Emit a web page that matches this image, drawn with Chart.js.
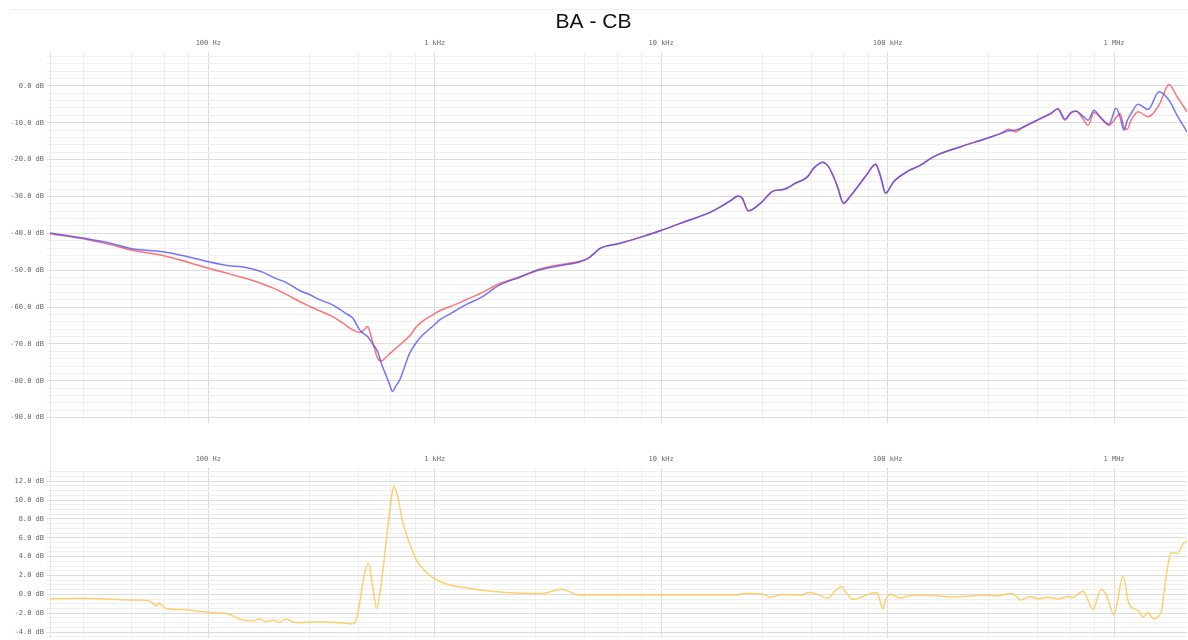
<!DOCTYPE html>
<html>
<head>
<meta charset="utf-8">
<script src="https://cdn.jsdelivr.net/npm/chart.js@4.4.1/dist/chart.umd.min.js"></script>
<style>
  html, body { margin: 0; padding: 0; background: #fff; overflow: hidden; }
  body { width: 1188px; height: 640px; position: relative; }
  #topline { position: absolute; left: 10px; right: 0; top: 9px; border-top: 1px solid #f0f0f0; }
  #gapline { position: absolute; left: 50px; top: 423px; width: 1px; height: 45px; background: #e8e8e8; }
  #top { position: absolute; left: 0; top: 0; }
  #bottom { position: absolute; left: 0; top: 430px; }
</style>
</head>
<body>
<div id="topline"></div>
<div id="gapline"></div>
<canvas id="top" width="1188" height="430"></canvas>
<canvas id="bottom" width="1188" height="215"></canvas>
<script>
// frequency response BA / CB (dB)
const FREQ = [20, 28, 36.5, 46, 63, 82, 100, 124, 140, 157, 175, 196, 220, 253, 280, 310, 354, 400,
  434, 466, 485, 505, 532, 560, 583, 613, 632, 652, 672, 700, 775, 832, 885, 980, 1052, 1165, 1290,
  1386, 1582, 1940, 2377, 2914, 3573, 4381, 4753, 5053, 5370, 6586, 8075, 9900, 12140, 16980, 20190,
  21910, 22810, 24260, 27420, 31310, 34670, 39170, 44260, 47060, 49550, 51580, 54810, 57680, 60100,
  63860, 68600, 73660, 80700, 88500, 93100, 97960, 106300, 122500, 139900, 159800, 210400, 266100,
  316300, 342800, 368200, 399900, 475500, 526200, 565000, 607000, 645200, 679200, 721800, 767400,
  815700, 875000, 950600, 1021000, 1064000, 1107000, 1142000, 1189000, 1277000, 1413000, 1581000,
  1750000, 1899000, 2100000];

const RED_DB = [-40.1, -41.5, -43.0, -44.6, -46.0, -47.9, -49.5, -51.0, -51.9, -52.8, -53.8, -55.0,
  -56.5, -58.5, -59.8, -61.0, -62.6, -64.7, -66.2, -66.9, -66.3, -65.3, -69.5, -73.9, -74.6, -73.4,
  -72.7, -72.0, -71.2, -70.3, -67.8, -65.3, -63.8, -62.1, -61.0, -59.9, -58.8, -57.9, -56.4, -53.6,
  -51.8, -49.7, -48.5, -47.6, -46.8, -45.5, -44.1, -42.7, -41.1, -39.3, -37.3, -33.9, -31.2, -29.9,
  -30.5, -33.9, -31.9, -28.5, -28.1, -26.4, -24.7, -22.4, -21.2, -20.7, -21.9, -24.6, -27.4, -31.7,
  -29.8, -27.4, -24.2, -21.2, -24.7, -29.2, -26.0, -23.2, -21.5, -19.2, -16.5, -14.5, -12.9, -11.8,
  -12.5, -11.1, -8.8, -7.6, -6.3, -9.3, -7.4, -6.9, -8.5, -10.7, -7.2, -8.6, -10.7, -8.6, -7.5,
  -11.3, -11.8, -9.3, -7.0, -8.4, -5.2, 0.4, -3.0, -7.0];

const BLUE_DB = [-39.9, -41.3, -42.6, -44.2, -45.0, -46.4, -47.7, -48.8, -49.1, -49.7, -50.6, -52.1,
  -53.3, -55.5, -56.6, -58.0, -59.4, -61.5, -63.0, -66.2, -67.2, -68.0, -70.0, -72.1, -75.5, -78.9,
  -81.0, -82.9, -81.5, -79.8, -72.5, -69.5, -67.6, -65.2, -63.5, -61.9, -60.3, -59.2, -57.6, -54.0,
  -51.9, -49.9, -48.8, -47.7, -46.8, -45.5, -44.1, -42.7, -41.1, -39.3, -37.3, -33.9, -31.2, -29.9,
  -30.5, -33.9, -31.9, -28.5, -28.1, -26.4, -24.7, -22.4, -21.2, -20.7, -21.9, -24.6, -27.4, -31.9,
  -29.9, -27.4, -24.2, -21.3, -24.5, -29.0, -26.0, -23.2, -21.5, -19.2, -16.5, -14.5, -12.9, -12.2,
  -12.0, -11.1, -8.8, -7.4, -6.2, -9.0, -7.2, -6.8, -8.0, -9.3, -6.6, -8.8, -10.4, -6.1, -8.5,
  -12.0, -9.5, -7.5, -5.0, -6.4, -1.6, -3.9, -8.0, -12.5];

// difference curve
const DIFF_FREQ = [20, 28, 36.5, 46, 54.8, 58.9, 60.1, 65.2, 76.7, 100, 117.7, 124, 137, 157, 168, 181,
  192, 206, 221, 235, 253, 310, 380, 434, 452, 466, 490, 510, 532, 554, 583, 613, 645, 659, 686, 721,
  752, 832, 980, 1165, 1386, 1630, 1940, 2377, 3006, 3294, 3647, 3956, 4294, 5370, 12140, 21690,
  23540, 25540, 27980, 30350, 34670, 41200, 45160, 49000, 54300, 58870, 62560, 65870, 70000, 76000,
  81660, 89400, 92200, 95060, 97960, 103100, 114200, 122500, 139900, 171800, 190100, 232900, 285700,
  306900, 342800, 361200, 387400, 420600, 465900, 510300, 565000, 625700, 658800, 729600, 807800,
  875000, 922000, 1000000, 1096000, 1165000, 1277000, 1343000, 1413000, 1488000, 1614000, 1698000,
  1787000, 1899000, 2019000, 2100000];

const DIFF_DB = [-0.45, -0.4, -0.5, -0.6, -0.7, -1.2, -0.9, -1.5, -1.6, -1.9, -2.0, -2.1, -2.6, -2.8,
  -2.6, -2.9, -2.7, -2.95, -2.6, -2.9, -3.0, -2.9, -3.0, -3.1, -2.5, -0.9, 2.2, 3.3, 0.85, -1.5, 1.5,
  6.0, 10.4, 11.5, 10.4, 7.7, 6.3, 3.6, 1.8, 1.0, 0.7, 0.44, 0.25, 0.12, 0.1, 0.34, 0.54, 0.27, -0.05,
  -0.05, -0.05, -0.05, 0.13, 0.07, 0.05, -0.3, 0.0, -0.07, 0.2, 0.0, -0.4, 0.41, 0.82, 0.14, -0.51,
  -0.34, 0.0, 0.2, -0.51, -1.54, -0.6, 0.0, -0.4, -0.17, -0.1, -0.17, -0.28, -0.17, -0.1, -0.17, 0.1,
  0.0, -0.58, -0.24, -0.45, -0.31, -0.45, -0.24, -0.3, 0.34, -1.61, 0.51, 0.0, -2.15, 1.95, -1.03,
  -1.7, -2.4, -1.89, -2.57, -1.89, 1.88, 4.44, 4.34, 5.37, 5.64];

// axis ticks
const DECADES = [100, 1000, 10000, 100000, 1000000];
const DECADE_LABELS = ["100 Hz", "1 kHz", "10 kHz", "100 kHz", "1 MHz"];
const GRID_STEPS = [1, 2.8, 4.6, 6.4, 8.2];

const X_MIN = 20, X_MAX = 2100000;
const TICK_FONT = { family: "DejaVu Sans Mono", size: 7 };
const GRID_MAJOR = "#dcdcdc";
const GRID_MINOR = "#efefef";

function freqTicks(scale) {
  const ticks = [];
  for (let e = 1; e <= 6; e++) {
    GRID_STEPS.forEach(m => {
      const v = m * Math.pow(10, e);
      if (v >= X_MIN && v <= X_MAX) ticks.push({ value: v, major: m === 1 });
    });
  }
  scale.ticks = ticks;
}

function xAxis() {
  return {
    type: "logarithmic",
    position: "top",
    min: X_MIN,
    max: X_MAX,
    afterBuildTicks: freqTicks,
    afterFit: s => { s.height = 14; },
    border: { display: false },
    grid: {
      drawTicks: false,
      color: c => (c.tick && c.tick.major ? GRID_MAJOR : GRID_MINOR),
    },
    ticks: {
      autoSkip: false,
      maxRotation: 0,
      padding: 5,
      font: TICK_FONT,
      color: "#666",
      callback: v => {
        const i = DECADES.indexOf(v);
        return i >= 0 ? DECADE_LABELS[i] : "";
      },
    },
  };
}

function yAxis(min, max, from, to, step, every) {
  return {
    min: min,
    max: max,
    afterFit: s => { s.width = 50; },
    afterBuildTicks: s => {
      const ticks = [];
      const n = Math.round((to - from) / step);
      for (let i = 0; i <= n; i++) {
        const v = from + i * step;
        ticks.push({ value: v, major: Math.abs(v / every - Math.round(v / every)) < 1e-6 });
      }
      s.ticks = ticks;
    },
    border: { display: true, color: "#e6e6e6" },
    grid: {
      tickLength: 3,
      color: c => (c.tick && c.tick.major ? GRID_MAJOR : GRID_MINOR),
    },
    ticks: {
      autoSkip: false,
      padding: 3,
      font: TICK_FONT,
      color: "#666",
      callback: function (v, i, ticks) {
        return ticks[i].major ? Number(v).toFixed(1) + " dB" : "";
      },
    },
  };
}

const common = {
  responsive: false,
  animation: false,
  parsing: true,
  plugins: { legend: { display: false }, tooltip: { enabled: false } },
  elements: { point: { radius: 0 } },
};

new Chart(document.getElementById("top"), {
  type: "line",
  data: {
    datasets: [
      {
        label: "CB",
        data: FREQ.map((f, i) => ({ x: f, y: BLUE_DB[i] })),
        borderColor: "rgba(70, 70, 255, 0.75)",
        borderWidth: 1.5,
        cubicInterpolationMode: "monotone",
      },
      {
        label: "BA",
        data: FREQ.map((f, i) => ({ x: f, y: RED_DB[i] })),
        borderColor: "rgba(255, 70, 70, 0.75)",
        borderWidth: 1.5,
        cubicInterpolationMode: "monotone",
      },
    ],
  },
  options: {
    ...common,
    layout: { padding: { top: 0, right: 1, bottom: 7, left: 0 } },
    plugins: {
      ...common.plugins,
      title: {
        display: true,
        text: "BA - CB",
        color: "#111",
        font: { family: "Liberation Sans", size: 21, weight: "normal" },
        padding: { top: 10, bottom: 3 },
      },
    },
    scales: {
      x: xAxis(),
      y: yAxis(-91.4, 9.13, -90, 8, 2, 10),
    },
  },
});

new Chart(document.getElementById("bottom"), {
  type: "line",
  data: {
    datasets: [
      {
        label: "diff",
        data: DIFF_FREQ.map((f, i) => ({ x: f, y: DIFF_DB[i] })),
        borderColor: "rgba(255, 196, 70, 0.8)",
        borderWidth: 1.5,
        cubicInterpolationMode: "monotone",
      },
    ],
  },
  options: {
    ...common,
    layout: { padding: { top: 24, right: 1, bottom: 2, left: 0 } },
    scales: {
      x: xAxis(),
      y: yAxis(-4.6, 13.4, -4.5, 13, 0.5, 2),
    },
  },
});
</script>
</body>
</html>
